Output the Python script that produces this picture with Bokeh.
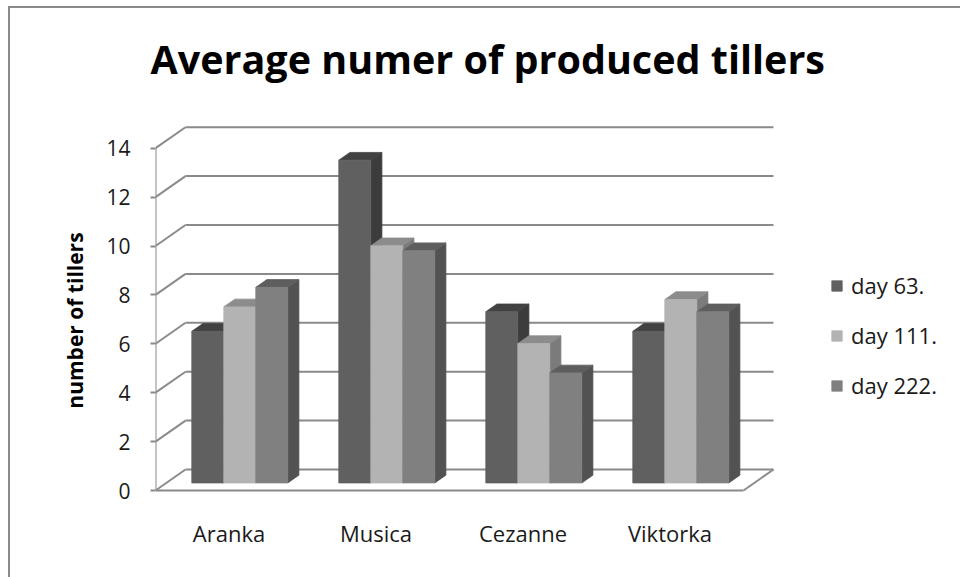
from bokeh.plotting import figure
from bokeh.models import Range1d, FixedTicker, Legend, LegendItem
from bokeh.embed import file_html
from bokeh.resources import INLINE

# ---------------- data ----------------
categories = ["Aranka", "Musica", "Cezanne", "Viktorka"]
series_names = ["day 63.", "day 111.", "day 222."]
day_63 = [6.2, 13.2, 7.0, 6.2]
day_111 = [7.2, 9.7, 5.7, 7.5]
day_222 = [8.0, 9.5, 4.5, 7.0]
value_ticks = [0, 2, 4, 6, 8, 10, 12, 14]

series_values = [day_63, day_111, day_222]
front_colors = ["#606060", "#b3b3b3", "#808080"]
top_colors = ["#424242", "#8c8c8c", "#5e5e5e"]
side_colors = ["#3c3c3c", "#7b7b7b", "#525252"]

# ---------------- layout constants (pixels) ----------------
W, H = 960, 577
FRAME_L, FRAME_T, FRAME_B = 155, 100, 540
PX_PER_CAT = 147.0
PX_PER_VAL = 24.45
ZERO_PX = 490.0
WALL_DX_PX, WALL_DY_PX = 30.0, 21.0
BAR_POS = 0.36     # front face of bars as fraction of wall depth
BAR_DEPTH = 0.37   # bar depth as fraction of wall depth
BAR_W_PX = 32.0
GRID = "#8a8a8a"
FONT = "Open Sans"
LEGEND_BOTTOM_PX = 400

n_cat = len(categories)
x_end = (W - FRAME_L) / PX_PER_CAT
y_start = -(FRAME_B - ZERO_PX) / PX_PER_VAL
y_end = (ZERO_PX - FRAME_T) / PX_PER_VAL
wdx = WALL_DX_PX / PX_PER_CAT
wdy = WALL_DY_PX / PX_PER_VAL
bw = BAR_W_PX / PX_PER_CAT
top_val = value_ticks[-1]

p = figure(width=W, height=H, x_range=Range1d(0, x_end), y_range=Range1d(y_start, y_end),
           output_backend="svg", toolbar_location=None,
           min_border_left=FRAME_L, min_border_right=0, min_border_top=FRAME_T,
           min_border_bottom=H - FRAME_B)
p.xgrid.visible = False
p.ygrid.visible = False
p.outline_line_color = None
p.background_fill_color = "white"
p.border_fill_color = None
# chart-area border (top and left edges, as in the cropped original)
p.styles = {"box-shadow": "inset 8px 6px 0 0 white, inset 10px 8px 0 0 #8a8a8a",
            "background-color": "white"}

# ---------------- walls ----------------
p.segment(x0=[wdx] * len(value_ticks), y0=[v + wdy for v in value_ticks],
          x1=[n_cat + wdx] * len(value_ticks), y1=[v + wdy for v in value_ticks],
          line_color=GRID, line_width=2)
p.segment(x0=[0] * len(value_ticks), y0=value_ticks,
          x1=[wdx] * len(value_ticks), y1=[v + wdy for v in value_ticks],
          line_color=GRID, line_width=2)
p.segment(x0=[0, n_cat, 0], y0=[0, 0, 0], x1=[n_cat, n_cat + wdx, 0], y1=[0, wdy, top_val],
          line_color=GRID, line_width=2)

# ---------------- bars ----------------
ddx = BAR_DEPTH * wdx
ddy = BAR_DEPTH * wdy
base = BAR_POS * wdy
legend_items = []
for k, vals in enumerate(series_values):
    fx0 = [i + 0.5 + BAR_POS * wdx - 1.5 * bw + k * bw for i in range(n_cat)]
    fx1 = [x + bw for x in fx0]
    fy1 = [base + v for v in vals]
    side_xs = [[b, b, b + ddx, b + ddx] for b in fx1]
    side_ys = [[base, t, t + ddy, base + ddy] for t in fy1]
    top_xs = [[a, b, b + ddx, a + ddx] for a, b in zip(fx0, fx1)]
    top_ys = [[t, t, t + ddy, t + ddy] for t in fy1]
    p.patches(side_xs, side_ys, fill_color=side_colors[k], line_color=side_colors[k], line_width=0.8)
    p.patches(top_xs, top_ys, fill_color=top_colors[k], line_color=top_colors[k], line_width=0.8)
    r = p.quad(left=fx0, right=fx1, bottom=[base] * n_cat, top=fy1,
               fill_color=front_colors[k], line_color=front_colors[k], line_width=0.8)
    legend_items.append(LegendItem(label=series_names[k], renderers=[r]))

# ---------------- axes ----------------
p.yaxis.ticker = FixedTicker(ticks=value_ticks)
p.yaxis.axis_line_color = None
p.yaxis.major_tick_line_color = GRID
p.yaxis.major_tick_line_width = 2
p.yaxis.major_tick_out = 5
p.yaxis.major_tick_in = 0
p.yaxis.minor_tick_line_color = None
p.yaxis.major_label_text_font = FONT
p.yaxis.major_label_text_font_size = "21px"
p.yaxis.major_label_text_color = "#1a1a1a"
p.yaxis.major_label_standoff = 20
p.yaxis.axis_label = "number of tillers"
p.yaxis.axis_label_text_font = FONT
p.yaxis.axis_label_text_font_size = "21px"
p.yaxis.axis_label_text_font_style = "bold"
p.yaxis.axis_label_text_color = "black"
p.yaxis.axis_label_standoff = 14

p.xaxis.ticker = FixedTicker(ticks=[i + 0.5 for i in range(n_cat)])
p.xaxis.major_label_overrides = {i + 0.5: c for i, c in enumerate(categories)}
p.xaxis.axis_line_color = None
p.xaxis.major_tick_line_color = None
p.xaxis.minor_tick_line_color = None
p.xaxis.major_label_text_font = FONT
p.xaxis.major_label_text_font_size = "22px"
p.xaxis.major_label_text_color = "#1a1a1a"
p.xaxis.major_label_standoff = -29

# ---------------- title ----------------
p.title.text = "Average numer of produced tillers"
p.title.text_font = FONT
p.title.text_font_size = "39.5px"
p.title.text_font_style = "bold"
p.title.text_color = "black"
p.title.align = "left"
p.title.offset = -5
p.title.standoff = 30

# ---------------- legend ----------------
legend = Legend(items=legend_items, location=(830 - FRAME_L, FRAME_B - LEGEND_BOTTOM_PX),
                glyph_width=13, glyph_height=13, label_standoff=8,
                label_text_font=FONT, label_text_font_size="22px", label_text_color="#1a1a1a",
                spacing=20, padding=0, margin=0, border_line_color=None,
                background_fill_alpha=0)
p.add_layout(legend)

open("out.html", "w").write(file_html(p, INLINE))
